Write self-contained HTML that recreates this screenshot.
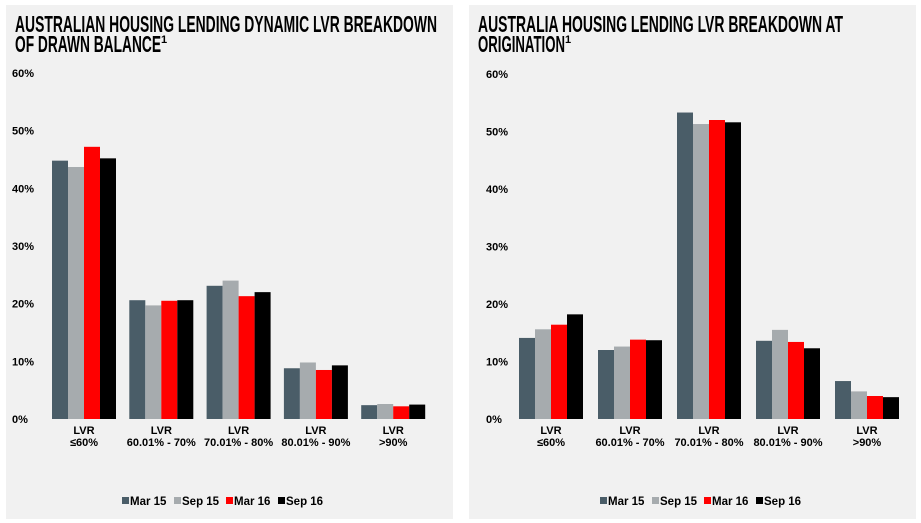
<!DOCTYPE html>
<html><head><meta charset="utf-8">
<style>
body{margin:0;background:#fff;width:921px;height:523px;overflow:hidden;font-family:"Liberation Sans",sans-serif}
svg{position:absolute;left:0;top:0}
.t{font-family:"Liberation Sans Narrow","Liberation Sans",sans-serif;font-weight:bold;font-size:23px;fill:#000}
.ax{font-size:11px;font-weight:bold;fill:#000}
.cat{font-size:11px;font-weight:bold;fill:#000;text-anchor:middle}
.lg{font-size:11.5px;font-weight:bold;fill:#000}
</style></head><body>
<svg id="s" width="921" height="523">
<rect x="6" y="5" width="447" height="514" fill="#f1f1f1"/>
<rect x="469" y="5" width="447" height="514" fill="#f1f1f1"/>
<text class="t" x="15" y="32" textLength="422" lengthAdjust="spacingAndGlyphs">AUSTRALIAN HOUSING LENDING DYNAMIC LVR BREAKDOWN</text>
<text class="t" x="15" y="52"><tspan textLength="146" lengthAdjust="spacingAndGlyphs">OF DRAWN BALANCE</tspan><tspan font-size="11" dy="-9">1</tspan></text>
<text class="t" x="478" y="32" textLength="365" lengthAdjust="spacingAndGlyphs">AUSTRALIA HOUSING LENDING LVR BREAKDOWN AT</text>
<text class="t" x="478" y="52"><tspan textLength="87" lengthAdjust="spacingAndGlyphs">ORIGINATION</tspan><tspan font-size="11" dy="-9">1</tspan></text>
</svg>
<script>
const categories=[["LVR","≤60%"],["LVR","60.01% - 70%"],["LVR","70.01% - 80%"],["LVR","80.01% - 90%"],["LVR",">90%"]];
const seriesNames=["Mar 15","Sep 15","Mar 16","Sep 16"];
const seriesColors=["#4a5d68","#a6abae","#ff0000","#000000"];
const leftMar15=[44.8,20.6,23.1,8.8,2.4];
const leftSep15=[43.7,19.7,24.0,9.8,2.6];
const leftMar16=[47.2,20.5,21.3,8.5,2.2];
const leftSep16=[45.2,20.6,22.0,9.3,2.5];
const rightMar15=[14.1,12.0,53.3,13.6,6.6];
const rightSep15=[15.6,12.6,51.3,15.5,4.8];
const rightMar16=[16.4,13.8,52.0,13.4,4.0];
const rightSep16=[18.2,13.7,51.6,12.3,3.8];
const yTicks=[0,10,20,30,40,50,60];
const NS="http://www.w3.org/2000/svg";
const svg=document.getElementById('s');
function mk(t,a,txt){const e=document.createElementNS(NS,t);for(const k in a)e.setAttribute(k,a[k]);if(txt!=null)e.textContent=txt;svg.appendChild(e);return e;}
function chart(side,x0,groupStep,firstX,y0,y60,series,legX){
  const y=v=>y0-(v/60)*(y0-y60);
  const bw=16;
  yTicks.forEach(t=>{
    const e=mk('text',{class:'ax',x:x0,y:y(t)+4},t+'%');
    
    
  });
  categories.forEach((c,i)=>{
    const gx=firstX+i*groupStep;
    series.forEach((s,j)=>{
      const r=mk('rect',{x:gx+j*bw,y:y(s[i]),width:bw,height:y0-y(s[i]),fill:seriesColors[j]});
      
      
    });
    const cx=gx+2*bw;
    const t1=mk('text',{class:'cat',x:cx,y:y0+15},c[0]);
    
    
    const t2=mk('text',{class:'cat',x:cx,y:y0+27},c[1]);
    
    
  });
  const offs=[0,52,104,156];
  seriesNames.forEach((n,j)=>{
    const r=mk('rect',{x:legX+offs[j],y:497,width:7,height:7,fill:seriesColors[j]});
    
    
    const t=mk('text',{class:'lg',x:legX+offs[j]+8,y:505},n);
    
    
  });
}
chart('left',12,77.3,52,419,73,[leftMar15,leftSep15,leftMar16,leftSep16],122);
chart('right',486,79,519,419,74,[rightMar15,rightSep15,rightMar16,rightSep16],600);
</script>
</body></html>
